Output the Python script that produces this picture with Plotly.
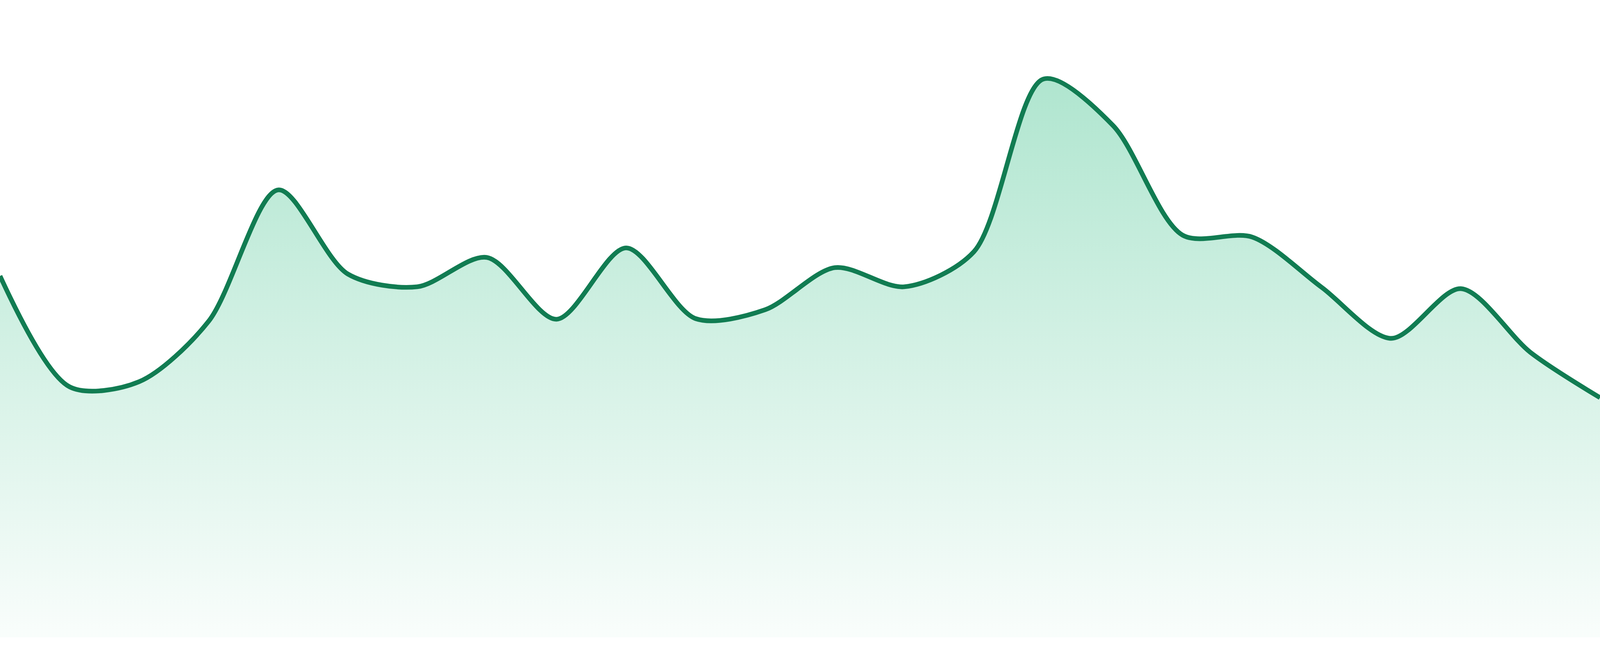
import plotly.graph_objects as go

# one value per period (0-100 scale of the plot height)
periods = list(range(24))
values = [56.7, 39.3, 40.1, 49.6, 70.2, 57.0, 55.0, 59.6, 49.9, 61.1, 50.0, 51.4,
          58.0, 55.0, 60.5, 87.6, 80.3, 63.1, 62.8, 54.9, 46.9, 54.7, 44.7, 37.6]

LINE_COLOR = "#117c52"
FILL_RGB = "34,184,122"
BOTTOM_GAP = 48 / 1632 * 100  # white strip under the area, in value units
LINE_PX = 14                  # stroke width in pixels of the 4800 px wide picture

fig = go.Figure()

fig.add_trace(go.Scatter(
    x=periods, y=values,
    mode="lines",
    line=dict(color=LINE_COLOR, width=LINE_PX, shape="spline", smoothing=0.85),
    fill="tozeroy",
    fillgradient=dict(
        type="vertical",
        colorscale=[[0, f"rgba({FILL_RGB},0.03)"], [1, f"rgba({FILL_RGB},0.36)"]],
        start=0, stop=max(values),
    ),
    hoverinfo="skip",
    showlegend=False,
))

fig.update_layout(
    autosize=True,
    margin=dict(l=0, r=0, t=0, b=0, pad=0),
    paper_bgcolor="white", plot_bgcolor="white",
    xaxis=dict(range=[0, len(periods) - 1], visible=False, fixedrange=True),
    yaxis=dict(range=[-BOTTOM_GAP, 100], visible=False, fixedrange=True),
)

# size the chart to the browser window, flush with its edges,
# and keep the stroke at LINE_PX of the final 4800 px picture
post = """
document.body.style.margin = '0';
document.body.style.overflow = 'hidden';
var gd = document.getElementById('{plot_id}');
var k = window.innerWidth / 4800;
Plotly.restyle(gd, {'line.width': %d * k});
Plotly.relayout(gd, {width: window.innerWidth, height: window.innerHeight});
""" % LINE_PX

fig.write_html("out.html", config={"displayModeBar": False},
               default_width="100%", default_height="100%",
               post_script=post)
